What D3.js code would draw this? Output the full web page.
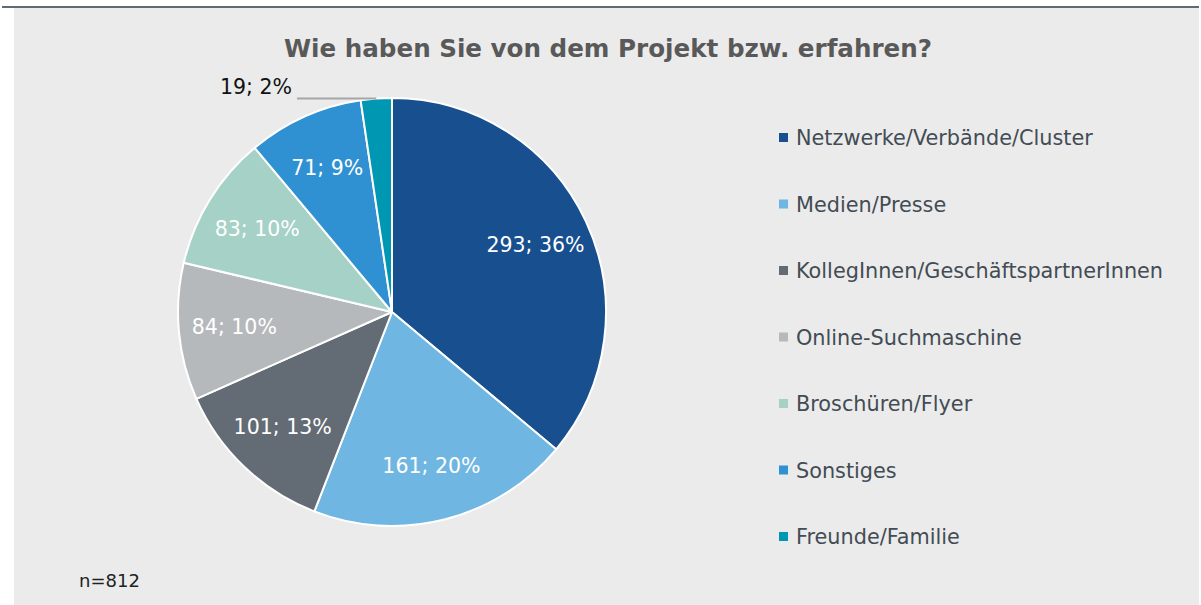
<!DOCTYPE html>
<html>
<head>
<meta charset="utf-8">
<script src="https://cdn.jsdelivr.net/npm/d3@7"></script>
<style>
  body { margin: 0; background: #fff; }
  svg { display: block; }
  text { font-family: "DejaVu Sans", "Liberation Sans", sans-serif; }
</style>
</head>
<body>
<div id="chart"></div>
<script>
const categories = [
    "Netzwerke/Verbände/Cluster",
    "Medien/Presse",
    "KollegInnen/GeschäftspartnerInnen",
    "Online-Suchmaschine",
    "Broschüren/Flyer",
    "Sonstiges",
    "Freunde/Familie"
];
const counts = [293, 161, 101, 84, 83, 71, 19];
const percents = [36, 20, 13, 10, 10, 9, 2];
const sliceColors = ["#174f8f", "#70b6e2", "#636b74", "#b6b9bc", "#a6d1c7", "#2f91d1", "#0097b2"];
const labelColors = ["#fff", "#fff", "#fff", "#fff", "#fff", "#fff", "#111"];

const width = 1201;
const height = 605;
const total = d3.sum(counts);

const svg = d3.select("#chart")
    .append("svg")
    .attr("width", width)
    .attr("height", height);

// panel background
svg.append("rect")
    .attr("x", 14).attr("y", 8)
    .attr("width", 1185).attr("height", height - 8)
    .attr("fill", "#ebebeb");

svg.append("line")
    .attr("x1", 2).attr("x2", 1199)
    .attr("y1", 7).attr("y2", 7)
    .attr("stroke", "#5f6a75")
    .attr("stroke-width", 2);

svg.append("text")
    .attr("x", 608)
    .attr("y", 57)
    .attr("text-anchor", "middle")
    .style("font-size", "24.6px")
    .style("font-weight", "bold")
    .attr("fill", "#595959")
    .text("Wie haben Sie von dem Projekt bzw. erfahren?");

const cx = 392, cy = 312, radius = 214;

const data = categories.map((c, i) => ({ name: c, value: counts[i], pct: percents[i], i }));

const pie = d3.pie()
    .value(d => d.value)
    .sort(null);

const arcs = pie(data);

const arc = d3.arc()
    .innerRadius(0)
    .outerRadius(radius);

const labelArc = d3.arc()
    .innerRadius(radius * 0.74)
    .outerRadius(radius * 0.74);

const pieGroup = svg.append("g")
    .attr("transform", `translate(${cx},${cy})`);

pieGroup.selectAll("path")
    .data(arcs)
    .enter()
    .append("path")
    .attr("d", arc)
    .attr("fill", d => sliceColors[d.data.i])
    .attr("stroke", "#fff")
    .attr("stroke-width", 2)
    .attr("stroke-linejoin", "round");

function labelText(d) {
    return `${d.data.value}; ${d.data.pct}%`;
}

// inner labels
pieGroup.selectAll("text.inner")
    .data(arcs.filter(d => d.data.pct > 5))
    .enter()
    .append("text")
    .attr("class", "inner")
    .attr("transform", d => `translate(${labelArc.centroid(d)})`)
    .attr("dy", "0.35em")
    .attr("text-anchor", "middle")
    .style("font-size", "20.5px")
    .attr("fill", d => labelColors[d.data.i])
    .text(labelText);

// small slice: label outside with leader line
const small = arcs.filter(d => d.data.pct <= 5);
small.forEach(d => {
    const mid = (d.startAngle + d.endAngle) / 2;
    const px = Math.sin(mid) * radius;
    const py = -Math.cos(mid) * radius;
    pieGroup.append("line")
        .attr("x1", -95).attr("x2", px)
        .attr("y1", py).attr("y2", py)
        .attr("stroke", "#a6a6a6")
        .attr("stroke-width", 2);
    pieGroup.append("text")
        .attr("x", -100)
        .attr("y", py - 5)
        .attr("text-anchor", "end")
        .style("font-size", "20.5px")
        .attr("fill", labelColors[d.data.i])
        .text(labelText(d));
});

// legend
const legend = svg.append("g")
    .attr("transform", "translate(779,138)");

const rowH = 66.5;

const item = legend.selectAll("g")
    .data(data)
    .enter()
    .append("g")
    .attr("transform", (d, i) => `translate(0,${i * rowH})`);

item.append("rect")
    .attr("x", 0).attr("y", -5)
    .attr("width", 9).attr("height", 9)
    .attr("fill", d => sliceColors[d.i]);

item.append("text")
    .attr("x", 17)
    .attr("dy", "0.35em")
    .style("font-size", "20.8px")
    .attr("fill", "#434c54")
    .text(d => d.name);

svg.append("text")
    .attr("x", 79)
    .attr("y", 587)
    .style("font-size", "18px")
    .attr("fill", "#222")
    .text("n=" + total);
</script>
</body>
</html>
